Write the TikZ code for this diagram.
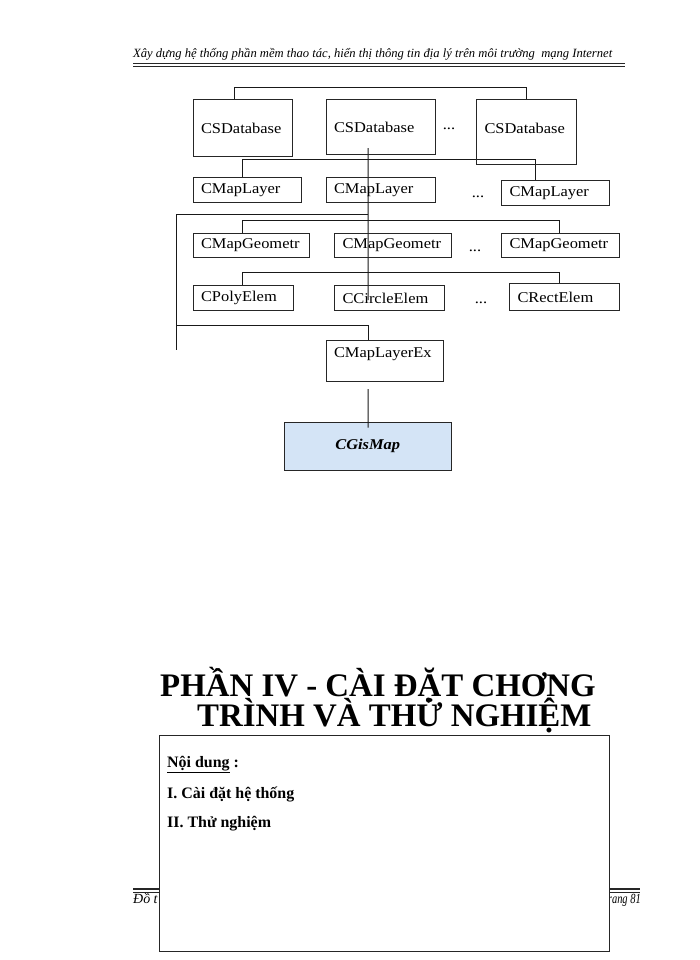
\documentclass[tikz,border=0pt]{standalone}
\usepackage{fontspec}
\setmainfont{Liberation Serif}
\newfontfamily\boxfont[FakeStretch=1.1]{Liberation Serif}
\usetikzlibrary{calc}
\pgfdeclarelayer{bg}
\pgfsetlayers{bg,main}
\definecolor{gisblue}{RGB}{212,228,246}
\begin{document}
\begin{tikzpicture}[x=1bp,y=-1bp,
  conn/.style={draw=black!90, line width=1bp},
  box/.style={draw=black!85, line width=1bp, anchor=north west, inner xsep=8bp, inner ysep=2bp, align=left, font=\boxfont\fontsize{15}{17}\selectfont},
  dots/.style={font=\boxfont\fontsize{15}{17}\selectfont, inner sep=0pt},
  ttl/.style={font=\fontsize{33}{35}\selectfont\bfseries, inner sep=0pt, anchor=base west},
  cnt/.style={font=\fontsize{16}{18}\selectfont\bfseries, inner sep=0pt, anchor=base west},
  foot/.style={font=\fontsize{14}{16}\selectfont\itshape, inner sep=0pt},
  rulethick/.style={line width=1.6bp, draw=black!85},
  rulethin/.style={line width=0.7bp, draw=black!85}
  ]
\useasboundingbox (0,0) rectangle (700,960);
\begin{pgfonlayer}{bg}
\fill[white] (0,0) rectangle (700,960);
\end{pgfonlayer}

% header
\node[inner sep=0pt, anchor=base west] (hdr) at (133,57) {\resizebox{479bp}{!}{\itshape Xây dựng hệ thống phần mềm thao tác, hiển thị thông tin địa lý trên môi trường \ mạng Internet}};
\draw[rulethick] (133,63.5) -- (625,63.5);
\draw[rulethin] (133,66.5) -- (625,66.5);

% row 1
\node[box, minimum width=99bp, minimum height=57bp, text width=83bp] (db1) at (192.5,99) {CSDatabase};
\node[box, minimum width=109.5bp, minimum height=55bp, text width=93.5bp] (db2) at (325.5,99) {CSDatabase};
\node[box, minimum width=100bp, minimum height=65bp, text width=84bp, text depth=7bp] (db3) at (476,99) {CSDatabase};
\node[dots] (d1) at (449,129) {...};
% row 2
\node[box, minimum width=108bp, minimum height=24.5bp, text width=92bp] (ml1) at (192.5,177) {CMapLayer};
\node[box, minimum width=109.5bp, minimum height=24.5bp, text width=93.5bp] (ml2) at (325.5,177) {CMapLayer};
\node[box, minimum width=108bp, minimum height=24.5bp, text width=92bp] (ml3) at (501,180) {CMapLayer};
\node[dots] (d2) at (478,197) {...};
% row 3
\node[box, minimum width=116.5bp, minimum height=24bp, text width=100.5bp] (mg1) at (192.5,232.5) {CMapGeometr};
\node[box, minimum width=117bp, minimum height=24bp, text width=101bp] (mg2) at (334,232.5) {CMapGeometr};
\node[box, minimum width=117.5bp, minimum height=24bp, text width=101.5bp] (mg3) at (501,232.5) {CMapGeometr};
\node[dots] (d3) at (475,251) {...};
% row 4
\node[box, minimum width=100bp, minimum height=24.5bp, text width=84bp] (pe) at (192.5,285) {CPolyElem};
\node[box, minimum width=109.5bp, minimum height=25bp, text width=93.5bp] (ce) at (334,285) {CCircleElem};
\node[box, minimum width=109.5bp, minimum height=27bp, text width=93.5bp] (re) at (509,283) {CRectElem};
\node[dots] (d4) at (481,303) {...};
% CMapLayerEx and CGisMap
\node[box, minimum width=117bp, minimum height=41bp, text width=101bp, text depth=17bp] (mlx) at (325.5,340) {CMapLayerEx};
\node[box, fill=gisblue, minimum width=166.5bp, minimum height=48.5bp, align=center, font=\boxfont\fontsize{15}{17}\selectfont\bfseries\itshape] (gis) at (284,421.5) {CGisMap};

\begin{pgfonlayer}{bg}
\draw[conn] ($(db1.north west)+(41.5,0)$) |- ($(db3.north)+(0,-12)$) -- (db3.north);
\draw[conn] ($(ml1.north west)+(50,0)$) |- ($(ml3.north west)+(34,-21)$) -- ($(ml3.north west)+(34,0)$);
\draw[conn] ($(db2.south west)+(42.5,-7)$) -- ($(ce.north west)+(34,15)$);
\draw[conn] ($(ml2.south west)+(42.5,11.5)$) -| ($(mlx.north west)+(-149.5,10)$);
\draw[conn] ($(mlx.north west)+(42.5,0)$) |- ($(mlx.north west)+(-149.5,-15)$);
\draw[conn] ($(mg1.north west)+(50,0)$) |- ($(mg3.north west)+(58.5,-12.5)$) -- ($(mg3.north west)+(58.5,0)$);
\draw[conn] ($(pe.north west)+(50,0)$) |- ($(re.north west)+(50.5,-11)$) -- ($(re.north west)+(50.5,0)$);
\end{pgfonlayer}
\draw[conn] ($(mlx.south west)+(42.5,7)$) -- ($(gis.north west)+(84,6)$);

% title
\node[ttl] (t1) at (160,696) {PHẦN IV - CÀI ĐẶT CHƠNG};
\node[ttl] (t2) at (197,726) {TRÌNH VÀ THỬ NGHIỆM};

% footer (partly hidden by the content box)
\draw[rulethick] (133,889) -- (640,889);
\draw[rulethin] (133,892) -- (640,892);
\node[foot, anchor=base west] (f1) at (133,903) {Đồ t};
\node[foot, anchor=base east] (f2) at (641,903) {\scalebox{0.75}[1]{Trang 81}};

% content box
\node[draw=black!85, line width=1bp, fill=white, anchor=north west, minimum width=450bp, minimum height=216bp, inner sep=0pt] (content) at (159,735) {};
\node[cnt] (c1) at (167,767) {\underline{Nội dung} :};
\node[cnt] (c2) at (167,798) {I. Cài đặt hệ thống};
\node[cnt] (c3) at (167,827) {II. Thử nghiệm};
\end{tikzpicture}
\end{document}
